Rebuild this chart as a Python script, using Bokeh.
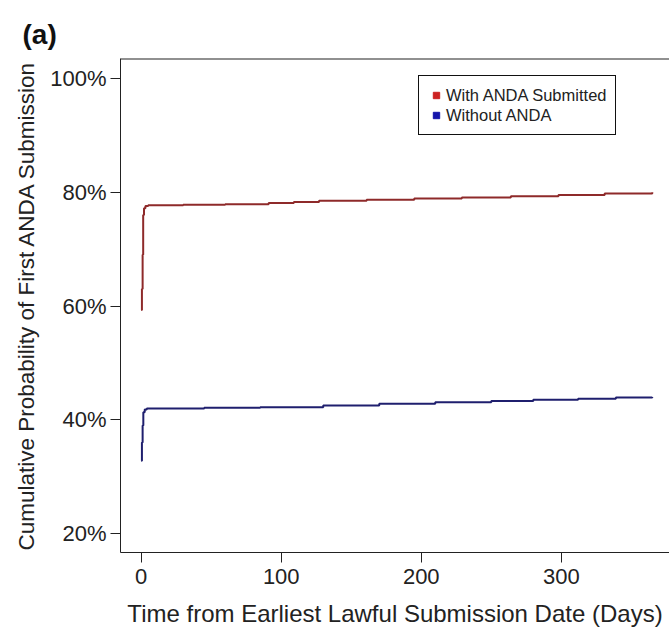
from bokeh.plotting import figure
from bokeh.models import (Range1d, FixedTicker, PrintfTickFormatter, Span,
                          Legend, LegendItem, ColumnDataSource)
from bokeh.embed import file_html
from bokeh.resources import INLINE

# ---- data ----
red_days = [0, 0.5, 1.0, 1.4, 2.0, 3.0, 5, 30, 60, 91, 109, 127, 161, 195, 229, 264, 298, 331, 365]
red_pct = [59.3, 63.0, 69.0, 76.0, 77.2, 77.6, 77.7, 77.8, 77.9, 78.1, 78.3, 78.5, 78.7, 78.9, 79.1, 79.3, 79.5, 79.8, 80.0]

blue_days = [0, 0.5, 1.0, 1.5, 2.5, 4, 45, 85, 130, 170, 210, 250, 280, 312, 339, 365]
blue_pct = [32.8, 36.0, 39.0, 41.3, 41.8, 42.0, 42.1, 42.2, 42.5, 42.8, 43.1, 43.3, 43.5, 43.7, 43.9, 44.0]

x_ticks = [0, 100, 200, 300]
y_ticks = [20, 40, 60, 80, 100]
series_names = ["With ANDA Submitted", "Without ANDA"]
x_lo, x_hi = -14.8, 377.3
y_lo, y_hi = 16.66, 103.52

FONT = "Liberation Sans"
AX = "#222222"

p = figure(width=669, height=632, output_backend="svg", toolbar_location=None,
           x_range=Range1d(x_lo, x_hi), y_range=Range1d(y_lo, y_hi),
           min_border_left=120, min_border_right=0, min_border_top=58, min_border_bottom=80,
           x_axis_label="Time from Earliest Lawful Submission Date (Days)",
           y_axis_label="Cumulative Probability of First ANDA Submission")
p.outline_line_color = None
p.grid.visible = False
p.background_fill_color = "white"
p.border_fill_color = "white"

# panel tag as title
p.title.text = "(a)"
p.title.text_font = FONT
p.title.text_font_size = "28px"
p.title.text_font_style = "bold"
p.title.text_color = "#111111"
p.title.align = "left"
p.title.offset = -98
p.title.standoff = 18

# curves (step-like)
src_r = ColumnDataSource(dict(x=red_days, y=red_pct))
src_b = ColumnDataSource(dict(x=blue_days, y=blue_pct))
p.step("x", "y", source=src_r, mode="after", line_color="#8e2a2a", line_width=2)
p.step("x", "y", source=src_b, mode="after", line_color="#1f1f6e", line_width=2)

# axes
xa = p.xaxis[0]
xa.ticker = FixedTicker(ticks=x_ticks)
ya = p.yaxis[0]
ya.ticker = FixedTicker(ticks=y_ticks)
ya.formatter = PrintfTickFormatter(format="%d%%")
for ax in (xa, ya):
    ax.axis_line_color = AX
    ax.major_tick_line_color = AX
    ax.minor_tick_line_color = None
    ax.major_tick_in = 0
    ax.major_tick_out = 10
    ax.major_label_text_font = FONT
    ax.major_label_text_font_size = "22px"
    ax.major_label_text_color = AX
    ax.axis_label_text_font = FONT
    ax.axis_label_text_font_style = "normal"
    ax.axis_label_text_color = AX
xa.axis_label_text_font_size = "24px"
ya.axis_label_text_font_size = "22.5px"
xa.major_label_standoff = 6
xa.axis_label_standoff = 13
ya.major_label_standoff = 4
ya.axis_label_standoff = 8

# top border line
p.add_layout(Span(location=y_hi, dimension="width", line_color=AX, line_width=2))

# legend (square markers) - one off-screen point each so the legend glyph draws
rr = p.scatter(x=[-1000], y=[-1000], marker="square", size=7, fill_color="#cc2222", line_color="#cc2222")
rb = p.scatter(x=[-1000], y=[-1000], marker="square", size=7, fill_color="#1515aa", line_color="#1515aa")
leg = Legend(items=[LegendItem(label=series_names[0], renderers=[rr]),
                    LegendItem(label=series_names[1], renderers=[rb])],
             location=(298, 417))
leg.border_line_color = "#111111"
leg.border_line_alpha = 1
leg.border_line_width = 1
leg.background_fill_alpha = 1
leg.padding = 9
leg.margin = 0
leg.spacing = 0
leg.glyph_width = 16
leg.glyph_height = 16
leg.label_height = 20
leg.label_standoff = 2
leg.label_text_font = FONT
leg.label_text_font_size = "16.5px"
leg.label_text_color = AX
p.add_layout(leg, "center")

open("out.html", "w").write(file_html(p, INLINE))
